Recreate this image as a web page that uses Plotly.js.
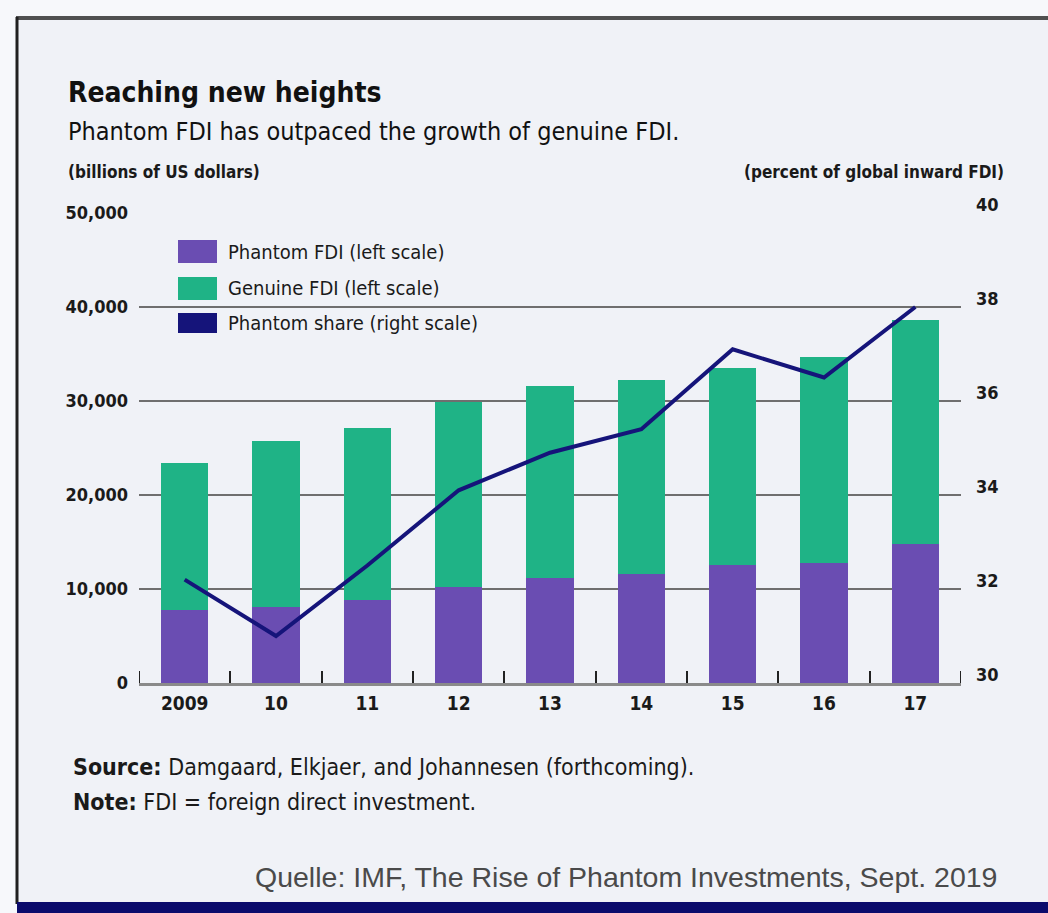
<!DOCTYPE html>
<html>
<head>
<meta charset="utf-8">
<script src="https://cdn.plot.ly/plotly-3.0.1.min.js"></script>
<style>
html,body{margin:0;padding:0;background:#f1f2f7;}
#chart{width:1048px;height:913px;}
</style>
</head>
<body>
<div id="chart"></div>
<script>
// ---- data ----
const years = ["2009","10","11","12","13","14","15","16","17"];
const phantomFDI = [7800, 8100, 8800, 10200, 11200, 11600, 12600, 12800, 14800];
const genuineFDI = [15600, 17600, 18300, 19700, 20400, 20600, 20900, 21900, 23800];
const phantomShare = [32.2, 31.0, 32.5, 34.1, 34.9, 35.4, 37.1, 36.5, 38.0];
const leftTicks = [0, 10000, 20000, 30000, 40000, 50000];
const rightTicks = [30, 32, 34, 36, 38, 40];
const seriesNames = ["Phantom FDI (left scale)", "Genuine FDI (left scale)", "Phantom share (right scale)"];

const PURPLE = "#6a4db2";
const GREEN = "#1fb386";
const NAVY = "#15147a";
const COND = "'DejaVu Sans Condensed', 'Liberation Sans Narrow', 'Arial Narrow', sans-serif";

// plot area in pixels
const L = 139, R = 961, T = 213, B = 683;
const px = x => (x - L) / (R - L);
const py = y => (B - y) / (B - T);

const traces = [
  {type: "bar", name: seriesNames[0], x: years, y: phantomFDI, marker: {color: PURPLE}, showlegend: false, hoverinfo: "y"},
  {type: "bar", name: seriesNames[1], x: years, y: genuineFDI, marker: {color: GREEN}, showlegend: false, hoverinfo: "y"},
  {type: "scatter", mode: "lines", name: seriesNames[2], x: years, y: phantomShare, yaxis: "y2",
   line: {color: NAVY, width: 4}, showlegend: false}
];

function ann(text, x, y, o) {
  return Object.assign({
    text: text, xref: "paper", yref: "paper", x: px(x), y: py(y),
    showarrow: false, xanchor: "left", yanchor: "middle",
    font: {family: COND, size: 18, color: "#1a1a1a"}
  }, o || {});
}

const annotations = [
  ann("<b>Reaching new heights</b>", 66, 92, {font: {family: COND, size: 28, color: "#111"}}),
  ann("Phantom FDI has outpaced the growth of genuine FDI.", 66, 132, {font: {family: COND, size: 25, color: "#111"}}),
  ann("<b>(billions of US dollars)</b>", 66, 172, {font: {family: COND, size: 17, color: "#1a1a1a"}}),
  ann("<b>(percent of global inward FDI)</b>", 1006, 172, {xanchor: "right", font: {family: COND, size: 17, color: "#1a1a1a"}}),
  ann(seriesNames[0], 226, 252, {font: {family: COND, size: 20, color: "#1a1a1a"}}),
  ann(seriesNames[1], 226, 288, {font: {family: COND, size: 20, color: "#1a1a1a"}}),
  ann(seriesNames[2], 226, 323, {font: {family: COND, size: 20, color: "#1a1a1a"}}),
  ann("<b>Source:</b> Damgaard, Elkjaer, and Johannesen (forthcoming).", 71, 767, {font: {family: COND, size: 23, color: "#1a1a1a"}}),
  ann("<b>Note:</b> FDI = foreign direct investment.", 71, 802, {font: {family: COND, size: 23, color: "#1a1a1a"}}),
  ann("Quelle: IMF, The Rise of Phantom Investments, Sept. 2019", 999, 877, {xanchor: "right", font: {family: "'Liberation Sans', Arial, sans-serif", size: 28.5, color: "#4a4a4a"}})
];

function rect(x0, y0, x1, y1, color, layer) {
  return {type: "rect", xref: "paper", yref: "paper", x0: px(x0), x1: px(x1), y0: py(y0), y1: py(y1),
          fillcolor: color, line: {width: 0}, layer: layer || "above"};
}
function line(x0, y0, x1, y1, color, w) {
  return {type: "line", xref: "paper", yref: "paper", x0: px(x0), x1: px(x1), y0: py(y0), y1: py(y1),
          line: {color: color, width: w}, layer: "below"};
}
// end ticks of the category axis (at the first and last category boundary)
function edgeTick(xv) {
  return {type: "line", xref: "x", yref: "paper", x0: xv, x1: xv, y0: 0, y1: 12 / (B - T),
          line: {color: "#222", width: 2}, layer: "above"};
}

const shapes = [
  rect(0, 0, 1048, 913, "#f7f8fb", "below"),
  rect(17, 17, 1048, 903, "#f0f2f7", "below"),
  line(16, 18, 1048, 18, "#505050", 4),
  line(17, 17, 17, 904, "#202020", 3),
  rect(17, 902, 1048, 913, "#0b0b6c"),
  rect(178, 240, 217, 263, PURPLE),
  rect(178, 277, 217, 300, GREEN),
  rect(178, 313, 217, 333, NAVY),
  edgeTick(-0.5),
  edgeTick(years.length - 0.5)
];

const layout = {
  width: 1048, height: 913,
  margin: {l: L, r: 1048 - R, t: T, b: 913 - B},
  paper_bgcolor: "#f1f2f7",
  plot_bgcolor: "rgba(0,0,0,0)",
  barmode: "stack",
  bargap: 0.485,
  showlegend: false,
  xaxis: {
    type: "category", tickmode: "array", tickvals: years, ticktext: years,
    range: [-0.5, years.length - 0.5],
    tickson: "boundaries", ticks: "inside", ticklen: 12, tickwidth: 2, tickcolor: "#222",
    showline: true, linecolor: "#8a8a8a", linewidth: 3,
    showgrid: false, zeroline: false,
    tickfont: {family: COND, size: 19, color: "#1a1a1a", weight: "bold"},
    ticklabelstandoff: 1
  },
  yaxis: {
    range: [0, 50000], tickmode: "array", tickvals: leftTicks,
    ticktext: leftTicks.map(v => v.toLocaleString("en-US")),
    showgrid: true, gridcolor: "#6f6f6f", gridwidth: 2,
    zeroline: false, showline: false, ticks: "",
    tickfont: {family: COND, size: 18, color: "#1a1a1a", weight: "bold"},
    ticklabelstandoff: 10
  },
  yaxis2: {
    overlaying: "y", side: "right", range: [30, 40],
    tickmode: "array", tickvals: rightTicks, ticktext: rightTicks.map(String),
    showgrid: false, zeroline: false, showline: false, ticks: "",
    tickfont: {family: COND, size: 18, color: "#1a1a1a", weight: "bold"},
    ticklabelstandoff: 14, ticklabelshift: -8
  },
  annotations: annotations,
  shapes: shapes
};

Plotly.newPlot("chart", traces, layout, {displayModeBar: false, staticPlot: true});
</script>
</body>
</html>
